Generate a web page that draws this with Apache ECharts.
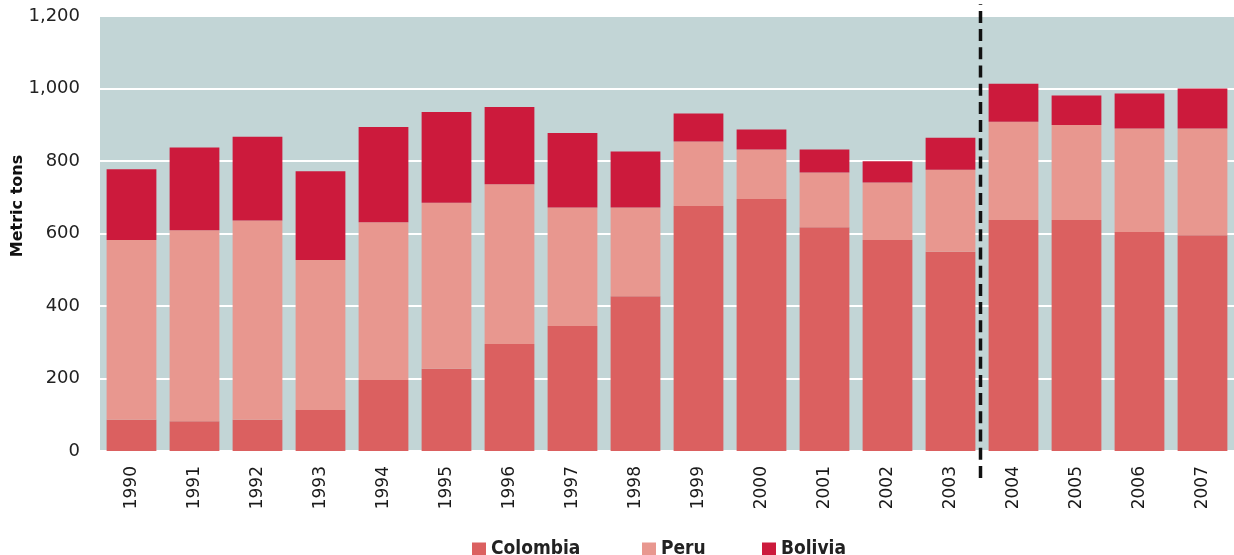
<!DOCTYPE html>
<html>
<head>
<meta charset="utf-8">
<script src="https://cdn.jsdelivr.net/npm/echarts@6/dist/echarts.min.js"></script>
<style>
	html,body{margin:0;padding:0;background:#fff;}
	#chart{width:1234px;height:555px;}
</style>
</head>
<body>
<div id="chart"></div>
<script>
//years on the x axis
const years = ['1990','1991','1992','1993','1994','1995','1996','1997','1998','1999','2000','2001','2002','2003','2004','2005','2006','2007'];
//metric tons per country, stacked
const colombia = [86, 82, 86, 113, 196, 227, 295, 345, 427, 676, 695, 617, 582, 550, 637, 637, 604, 595];
const peru = [496, 527, 550, 414, 435, 458, 441, 327, 245, 178, 137, 151, 159, 226, 271, 262, 286, 295];
const bolivia = [195, 228, 231, 245, 263, 250, 213, 205, 154, 77, 55, 64, 58, 88, 105, 82, 96, 110];
//y axis ticks
const yTicks = [0, 200, 400, 600, 800, 1000, 1200];
//the break line sits between these two years
const breakAfter = '2003';
const breakBefore = '2004';

const colors = {colombia:'#DB6060', peru:'#E8978F', bolivia:'#CC1A3C'};
//legend entries and where each one starts
const legendNames = ['Colombia', 'Peru', 'Bolivia'];
const legendLeft = [472, 642, 762];

let myChart = echarts.init(document.getElementById('chart'));

function barSeries(name, data, color) {
	return {
		name: name,
		type: 'bar',
		stack: 'total',
		data: data,
		barCategoryGap: '21%',
		itemStyle: {color: color},
		emphasis: {disabled: true}
	};
}

//one legend per entry, so the gaps match the original
let legends = legendNames.map(function (name, i) {
	return {
		data: [name],
		left: legendLeft[i],
		top: 540,
		padding: 0,
		icon: 'rect',
		itemWidth: 14,
		itemHeight: 14,
		textStyle: {
			fontFamily: 'DejaVu Sans Condensed',
			fontWeight: 'bold',
			fontSize: 19,
			color: '#222'
		}
	};
});

let option = {
	animation: false,
	grid: {
		left: 100,
		top: 16,
		width: 1136,
		bottom: 104,
		show: true,
		backgroundColor: '#C2D5D6',
		borderWidth: 0
	},
	legend: legends,
	xAxis: {
		type: 'category',
		data: years,
		axisLine: {show: false},
		axisTick: {show: false},
		axisLabel: {
			rotate: 90,
			margin: 15,
			fontFamily: 'DejaVu Sans',
			fontSize: 17,
			color: '#1a1a1a'
		}
	},
	yAxis: {
		type: 'value',
		min: yTicks[0],
		max: yTicks[yTicks.length - 1],
		interval: yTicks[1] - yTicks[0],
		axisLine: {show: false},
		axisTick: {show: false},
		splitLine: {lineStyle: {color: '#fff', width: 2}},
		axisLabel: {
			margin: 20,
			fontFamily: 'DejaVu Sans',
			fontSize: 18,
			color: '#222',
			formatter: function (v) { return v.toLocaleString('en-US'); }
		}
	},
	series: [
		barSeries('Colombia', colombia, colors.colombia),
		barSeries('Peru', peru, colors.peru),
		barSeries('Bolivia', bolivia, colors.bolivia)
	]
};
myChart.setOption(option);

//dashed separator between 2003 and 2004, and the y axis title
let xa = myChart.convertToPixel({xAxisIndex: 0}, breakAfter);
let xb = myChart.convertToPixel({xAxisIndex: 0}, breakBefore);
let xBreak = (xa + xb) / 2 - 1.5;
myChart.setOption({
	graphic: [
		{
			type: 'line',
			z: 100,
			shape: {x1: xBreak, y1: 4, x2: xBreak, y2: 478},
			style: {stroke: '#111', lineWidth: 3.5, lineDash: [12, 6.2], lineDashOffset: 11.3}
		},
		{
			type: 'text',
			x: 18,
			y: 206,
			rotation: Math.PI / 2,
			style: {
				text: 'Metric tons',
				fontFamily: 'DejaVu Sans',
				fontWeight: 'bold',
				fontSize: 16,
				fill: '#111',
				align: 'center',
				verticalAlign: 'middle'
			}
		}
	]
});
</script>
</body>
</html>
